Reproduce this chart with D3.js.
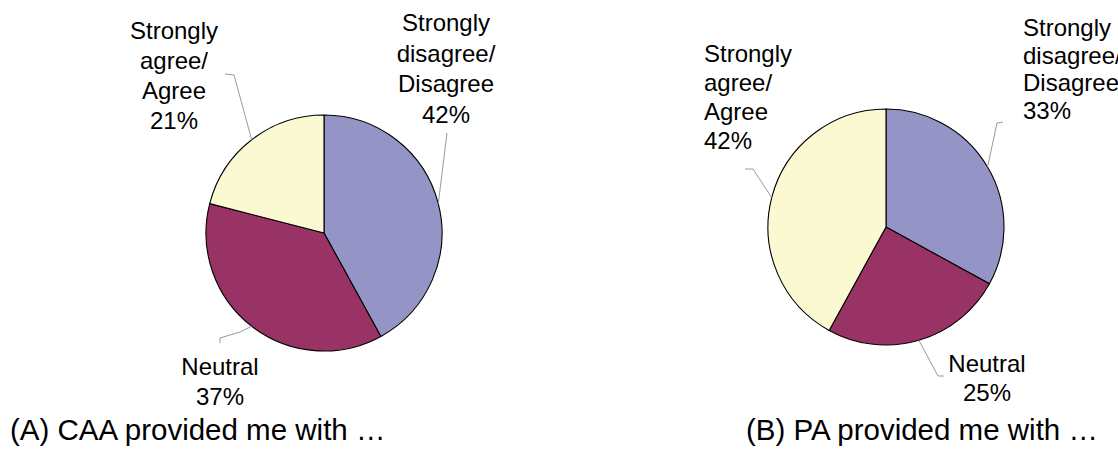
<!DOCTYPE html>
<html>
<head>
<meta charset="utf-8">
<script src="https://cdn.jsdelivr.net/npm/d3@7"></script>
<style>
  html, body { margin: 0; padding: 0; background: #ffffff; }
  svg { display: block; }
  text { font-family: "Liberation Sans", Arial, sans-serif; fill: #000; }
</style>
</head>
<body>
<svg id="chart" width="1118" height="450"></svg>
<script>
// Response categories, in clockwise order from 12 o'clock
const categories = ["Strongly disagree/ Disagree", "Neutral", "Strongly agree/ Agree"];
const labelLines = [["Strongly", "disagree/", "Disagree"], ["Neutral"], ["Strongly", "agree/", "Agree"]];
const colors = ["#9494c6", "#993366", "#faf9d1"];

// Share of respondents (%) per category
const caaValues = [42, 37, 21];
const paValues = [33, 25, 42];

const titles = ["(A) CAA provided me with \u2026", "(B) PA provided me with \u2026"];

const svg = d3.select("#chart");
const R = 118;

// Per-pie layout: centre, title position, and for every slice the label anchor
// (x, first baseline, alignment, line step) and the leader knee + tail end.
const pies = [
  {
    values: caaValues, title: titles[0], cx: 324, cy: 233, titleX: 10,
    labels: [
      { x: 446, y: 31, anchor: "middle", step: 30.5, knee: [447, 133], tail: [447, 133] },
      { x: 220, y: 375, anchor: "middle", step: 30, knee: [240, 332], tail: [220, 338], tail2: [220, 343] },
      { x: 174, y: 39, anchor: "middle", step: 30, knee: [234, 75], tail: [225, 74] }
    ]
  },
  {
    values: paValues, title: titles[1], cx: 886, cy: 227, titleX: 746,
    labels: [
      { x: 1023, y: 36, anchor: "start", step: 27.5, knee: [997, 123], tail: [1003, 122] },
      { x: 987, y: 372, anchor: "middle", step: 28.5, knee: [938, 376], tail: [944, 376] },
      { x: 704, y: 62, anchor: "start", step: 29, knee: [753, 169], tail: [745, 169] }
    ]
  }
];

const pie = d3.pie().sort(null).value(d => d);
const arc = d3.arc().innerRadius(0).outerRadius(R);

pies.forEach(p => {
  const g = svg.append("g").attr("transform", `translate(${p.cx},${p.cy})`);
  const arcs = pie(p.values);

  g.selectAll("path.slice")
    .data(arcs)
    .join("path")
    .attr("class", "slice")
    .attr("d", arc)
    .attr("fill", (d, i) => colors[i])
    .attr("stroke", "#000")
    .attr("stroke-width", 1.1)
    .attr("stroke-linejoin", "round");

  // Leader lines: from the slice edge at its mid-angle to the label
  arcs.forEach((a, i) => {
    const L = p.labels[i];
    const mid = (a.startAngle + a.endAngle) / 2;
    const ex = p.cx + R * Math.sin(mid);
    const ey = p.cy - R * Math.cos(mid);
    const pts = [[ex, ey], L.knee, L.tail];
    if (L.tail2) pts.push(L.tail2);
    svg.append("path")
      .attr("d", d3.line()(pts))
      .attr("fill", "none")
      .attr("stroke", "#9a9a9a")
      .attr("stroke-width", 1);

    const t = svg.append("text")
      .attr("text-anchor", L.anchor)
      .attr("font-size", 24);
    const lines = labelLines[i].concat([p.values[i] + "%"]);
    lines.forEach((ln, k) => {
      t.append("tspan").attr("x", L.x).attr("y", L.y + k * L.step).text(ln);
    });
  });

  svg.append("text")
    .attr("x", p.titleX)
    .attr("y", 440)
    .attr("font-size", 29.5)
    .text(p.title);
});
</script>
</body>
</html>
